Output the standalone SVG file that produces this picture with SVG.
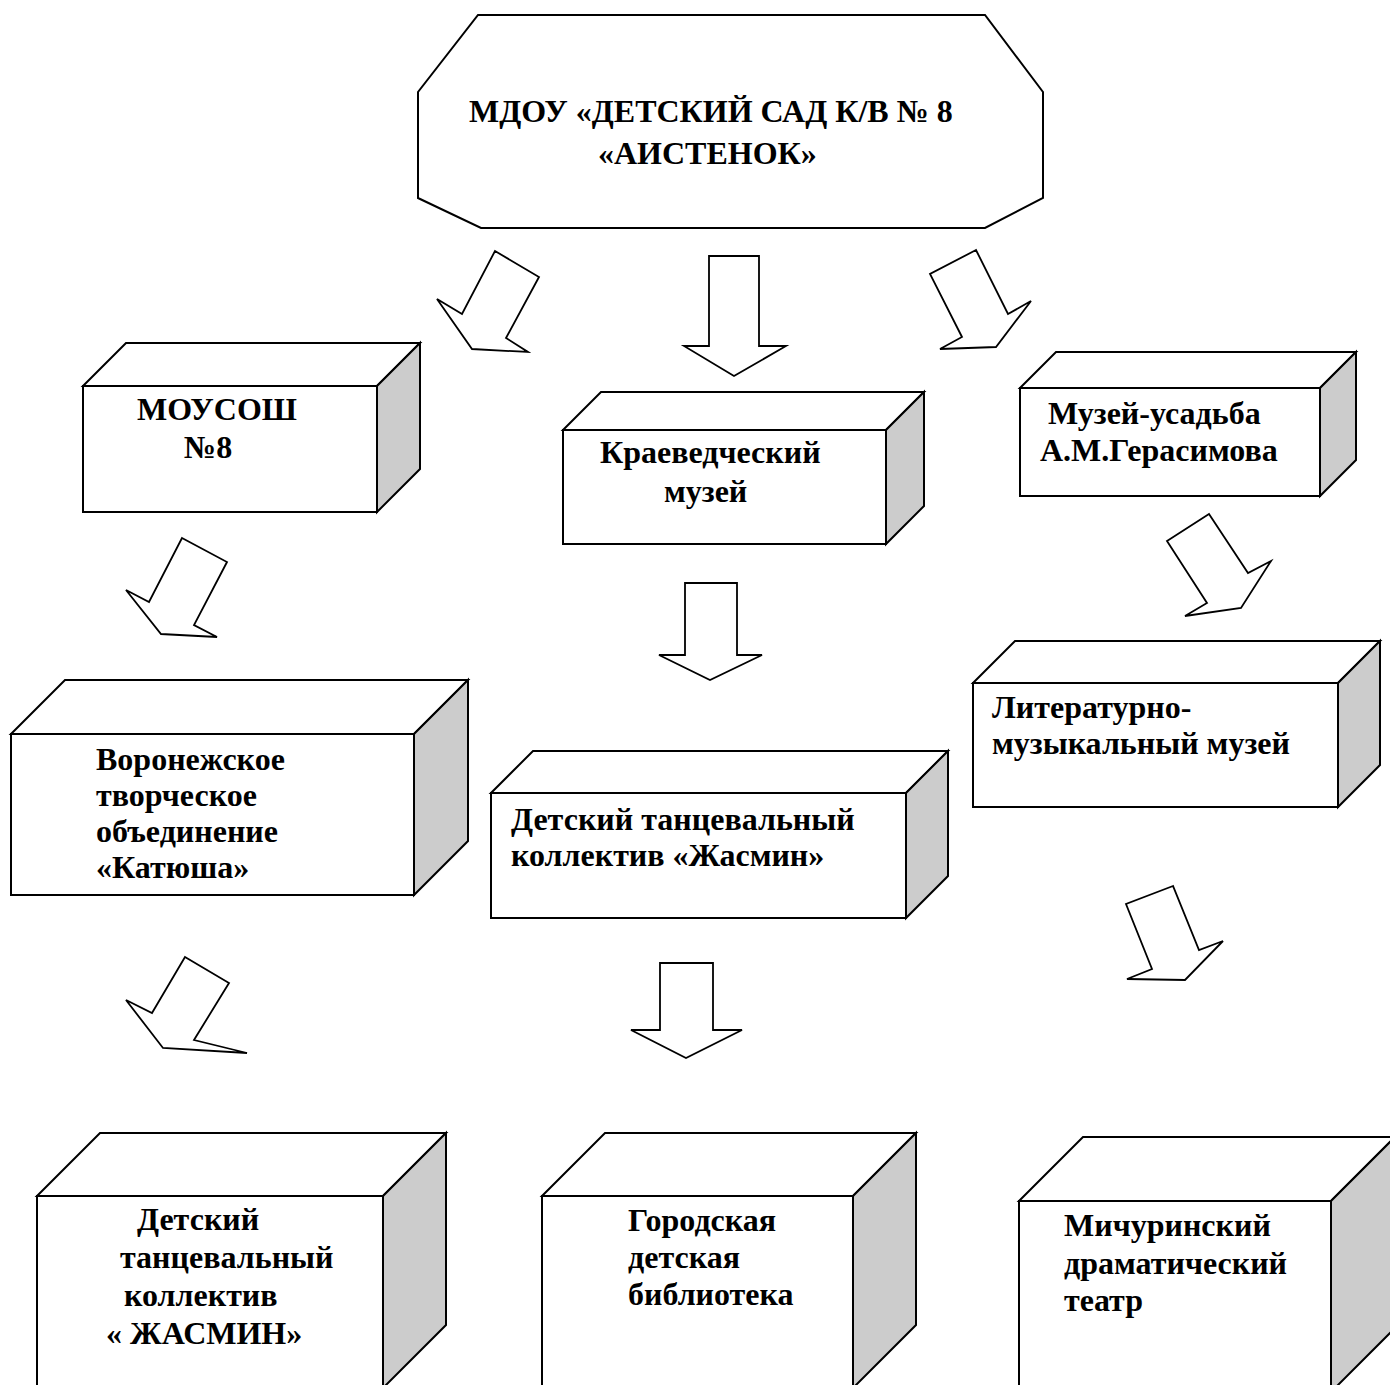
<svg xmlns="http://www.w3.org/2000/svg" width="1390" height="1385" viewBox="0 0 1390 1385">
<style>
.bg{fill:#ffffff}
.ln{fill:#ffffff;stroke:#000000;stroke-width:2;stroke-linejoin:miter}
.side{fill:#cccccc;stroke:#000000;stroke-width:2}
.arr{fill:#ffffff;stroke:#000000;stroke-width:1.8;stroke-linejoin:miter}
.t{font-family:"Liberation Serif","Times New Roman",serif;font-weight:bold;font-size:32px;fill:#000000}
</style>
<rect class="bg" x="0" y="0" width="1390" height="1385"/>
<g id="connectors">
<polygon class="arr" points="495,251 539,277 506,338 528,352 472,349 437,299 462,314"/>
<polygon class="arr" points="709,256 759,256 759,346 786,346 734,376 684,346 709,346"/>
<polygon class="arr" points="976,250 930,274 962,337 940,349 996,347 1031,301 1008,314"/>
<polygon class="arr" points="182,538 227,562 194,625 217,637 161,634 126,590 149,602"/>
<polygon class="arr" points="685,583 737,583 737,655 762,655 710,680 659,655 685,655"/>
<polygon class="arr" points="1209,514 1167,541 1207,603 1185,616 1241,608 1271,561 1248,573"/>
<polygon class="arr" points="1173,886 1126,904 1152,969 1127,979 1185,980 1223,941 1199,950"/>
<polygon class="arr" points="185,957 229,983 194,1040 247,1053 163,1048 126,1000 152,1013"/>
<polygon class="arr" points="660,963 713,963 713,1030 742,1030 686,1058 631,1030 660,1030"/>
</g>
<g id="node-root">
<polygon class="ln" points="478,15 985,15 1043,92 1043,198 985,228 481,228 418,198 418,92"/>
<text class="t" x="469" y="122">МДОУ «ДЕТСКИЙ САД К/В № 8</text>
<text class="t" x="598" y="164">«АИСТЕНОК»</text>
</g>
<g id="node-mousosh">
<polygon class="ln" points="83,386 126,343 420,343 377,386"/>
<polygon class="side" points="377,386 420,343 420,469 377,512"/>
<rect class="ln" x="83" y="386" width="294" height="126"/>
<text class="t" x="137" y="420">МОУСОШ</text>
<text class="t" x="184" y="458">№8</text>
</g>
<g id="node-kraeved">
<polygon class="ln" points="563,430 601,392 924,392 886,430"/>
<polygon class="side" points="886,430 924,392 924,506 886,544"/>
<rect class="ln" x="563" y="430" width="323" height="114"/>
<text class="t" x="600" y="463">Краеведческий</text>
<text class="t" x="664" y="502">музей</text>
</g>
<g id="node-usadba">
<polygon class="ln" points="1020,388 1056,352 1356,352 1320,388"/>
<polygon class="side" points="1320,388 1356,352 1356,460 1320,496"/>
<rect class="ln" x="1020" y="388" width="300" height="108"/>
<text class="t" x="1048" y="424">Музей-усадьба</text>
<text class="t" x="1040" y="461">А.М.Герасимова</text>
</g>
<g id="node-litmuz">
<polygon class="ln" points="973,683 1015,641 1380,641 1338,683"/>
<polygon class="side" points="1338,683 1380,641 1380,765 1338,807"/>
<rect class="ln" x="973" y="683" width="365" height="124"/>
<text class="t" x="992" y="718">Литературно-</text>
<text class="t" x="992" y="754">музыкальный музей</text>
</g>
<g id="node-katyusha">
<polygon class="ln" points="11,734 65,680 468,680 414,734"/>
<polygon class="side" points="414,734 468,680 468,841 414,895"/>
<rect class="ln" x="11" y="734" width="403" height="161"/>
<text class="t" x="96" y="770">Воронежское</text>
<text class="t" x="96" y="806">творческое</text>
<text class="t" x="96" y="842">объединение</text>
<text class="t" x="96" y="878">«Катюша»</text>
</g>
<g id="node-jasmin">
<polygon class="ln" points="491,793 533,751 948,751 906,793"/>
<polygon class="side" points="906,793 948,751 948,876 906,918"/>
<rect class="ln" x="491" y="793" width="415" height="125"/>
<text class="t" x="511" y="830">Детский танцевальный</text>
<text class="t" x="511" y="866">коллектив «Жасмин»</text>
</g>
<g id="node-jasmin2">
<polygon class="ln" points="37,1196 100,1133 446,1133 383,1196"/>
<polygon class="side" points="383,1196 446,1133 446,1325 383,1388"/>
<rect class="ln" x="37" y="1196" width="346" height="192"/>
<text class="t" x="137" y="1230">Детский</text>
<text class="t" x="120" y="1268">танцевальный</text>
<text class="t" x="124" y="1306">коллектив</text>
<text class="t" x="106" y="1344">« ЖАСМИН»</text>
</g>
<g id="node-library">
<polygon class="ln" points="542,1196 605,1133 916,1133 853,1196"/>
<polygon class="side" points="853,1196 916,1133 916,1325 853,1388"/>
<rect class="ln" x="542" y="1196" width="311" height="192"/>
<text class="t" x="628" y="1231">Городская</text>
<text class="t" x="628" y="1268">детская</text>
<text class="t" x="628" y="1305">библиотека</text>
</g>
<g id="node-theatre">
<polygon class="ln" points="1019,1201 1083,1137 1395,1137 1331,1201"/>
<polygon class="side" points="1331,1201 1395,1137 1395,1328 1331,1392"/>
<rect class="ln" x="1019" y="1201" width="312" height="191"/>
<text class="t" x="1064" y="1236">Мичуринский</text>
<text class="t" x="1064" y="1274">драматический</text>
<text class="t" x="1064" y="1311">театр</text>
</g>
</svg>
